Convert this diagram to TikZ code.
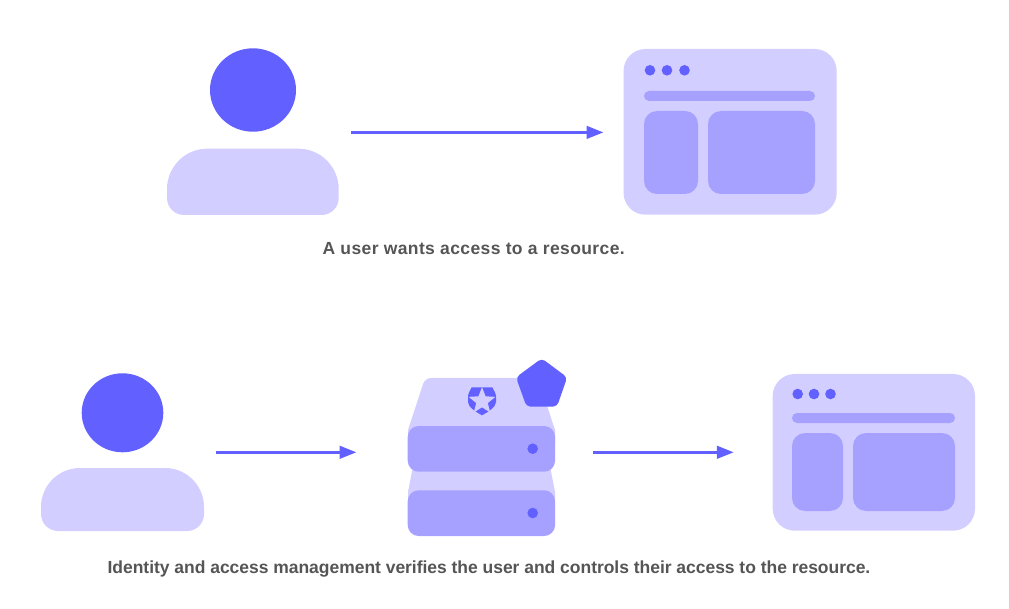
\documentclass[tikz,border=0pt]{standalone}
\usepackage{fontspec}
\setmainfont{Liberation Sans}
\usetikzlibrary{arrows.meta,shapes.geometric}
\definecolor{accent}{RGB}{98,97,255}
\definecolor{pale}{RGB}{210,206,255}
\definecolor{mid}{RGB}{166,161,255}
\definecolor{captioncol}{RGB}{85,85,85}
\tikzset{
  headshape/.style={ellipse,fill=accent,draw=none,inner sep=0pt},
  dotmark/.style={circle,fill=accent,draw=none,inner sep=0pt,minimum size=10.6pt},
  winbox/.style={rectangle,fill=pale,draw=none,rounded corners=22pt,inner sep=0pt},
  barbox/.style={rectangle,fill=mid,draw=none,rounded corners=5pt,inner sep=0pt},
  panelbox/.style={rectangle,fill=mid,draw=none,rounded corners=13pt,inner sep=0pt},
  slab/.style={rectangle,fill=mid,draw=none,rounded corners=11pt,inner sep=0pt,minimum width=147.4pt,minimum height=45.7pt},
  flow/.style={draw=accent,line width=3pt,-{Triangle[length=17pt,width=12.5pt,fill=accent]}},
  captext/.style={text=captioncol,font=\bfseries\fontsize{17.5}{20}\selectfont,anchor=base,inner sep=0pt}
}
\begin{document}
\begin{tikzpicture}[x=1pt,y=-1pt]
\useasboundingbox (0,0) rectangle (1009,609);
% top person
\node[headshape,minimum width=86pt,minimum height=83.4pt] (head1) at (253,90) {};
\fill[pale] (167,189) .. controls (167,167) and (185,148.7) .. (207,148.7) -- (298.7,148.7) .. controls (320.7,148.7) and (338.7,167) .. (338.7,189) -- (338.7,198) .. controls (338.7,207.4) and (331,215) .. (321.7,215) -- (184,215) .. controls (174.6,215) and (167,207.4) .. (167,198) -- cycle;
% top window
\node[winbox,minimum width=213.2pt,minimum height=165.7pt] (win1) at (730.1,131.85) {};
\node[dotmark] (w1a) at (650,70.3) {};
\node[dotmark] (w1b) at (667,70.3) {};
\node[dotmark] (w1c) at (684.5,70.3) {};
\node[barbox,minimum width=171pt,minimum height=10pt] (w1bar) at (729.5,96) {};
\node[panelbox,minimum width=54pt,minimum height=83pt] (w1l) at (671,152.5) {};
\node[panelbox,minimum width=107pt,minimum height=83pt] (w1r) at (761.5,152.5) {};
% top arrow
\coordinate (a1s) at (351,132.4);
\coordinate (a1e) at (603.5,132.4);
\draw[flow] (a1s) -- (a1e);
\node[captext] (t1) at (473.7,254.5) {\addfontfeatures{LetterSpace=2.2}A user wants access to a resource.};
% bottom person
\node[headshape,minimum width=81.6pt,minimum height=79pt] (head2) at (122.5,412.8) {};
\fill[pale] (41,507) .. controls (41,485.5) and (58.5,468) .. (80,468) -- (165,468) .. controls (186.5,468) and (204,485.5) .. (204,507) -- (204,514) .. controls (204,523.4) and (196.6,531) .. (187,531) -- (58,531) .. controls (48.6,531) and (41,523.4) .. (41,514) -- cycle;
% server
\fill[pale] (408,445) -- (408,430) [rounded corners=6pt] -- (425,378) -- (538,378) [rounded corners=0pt] -- (555,430) -- (555,445) -- cycle;
\fill[pale] (408,500) -- (408,492) -- (413,466) -- (550,466) -- (555,492) -- (555,500) -- cycle;
\node[slab] (s1) at (481.4,448.85) {};
\node[slab] (s2) at (481.4,513.15) {};
\node[dotmark] (s1d) at (532.7,448.7) {};
\node[dotmark] (s2d) at (532.7,513) {};
% shield
\fill[accent] (471.7,387.3) -- (492.3,387.3) .. controls (494,391) and (496,393) .. (496,397) -- (496,402) .. controls (496,407) and (488,412) .. (482,415.3) .. controls (476,412) and (468,407) .. (468,402) -- (468,397) .. controls (468,393) and (470,391) .. (471.7,387.3) -- cycle;
\node[star,star points=5,star point ratio=2.3,fill=pale,draw=none,inner sep=0pt,minimum size=28pt] (st) at (482,401.2) {};
% pentagon
\fill[accent,rounded corners=4pt] (541.7,358.4) -- (567.2,377.3) -- (557,406.6) -- (526.5,406.6) -- (516,377.3) -- cycle;
% bottom window
\node[winbox,minimum width=202.3pt,minimum height=156.7pt] (win2) at (873.85,452.35) {};
\node[dotmark] (w2a) at (797.7,394) {};
\node[dotmark] (w2b) at (814,394) {};
\node[dotmark] (w2c) at (830.5,394) {};
\node[barbox,minimum width=163pt,minimum height=10pt] (w2bar) at (873.5,418) {};
\node[panelbox,minimum width=51pt,minimum height=78pt] (w2l) at (817.5,472) {};
\node[panelbox,minimum width=102pt,minimum height=78pt] (w2r) at (904,472) {};
% bottom arrows
\coordinate (a2s) at (216,452.3);
\coordinate (a2e) at (356.5,452.3);
\coordinate (a3s) at (593.3,452.3);
\coordinate (a3e) at (733.8,452.3);
\draw[flow] (a2s) -- (a2e);
\draw[flow] (a3s) -- (a3e);
\node[captext] (t2) at (489,573.8) {\addfontfeatures{LetterSpace=-0.2}Identity and access management verifies the user and controls their access to the resource.};
\end{tikzpicture}
\end{document}
